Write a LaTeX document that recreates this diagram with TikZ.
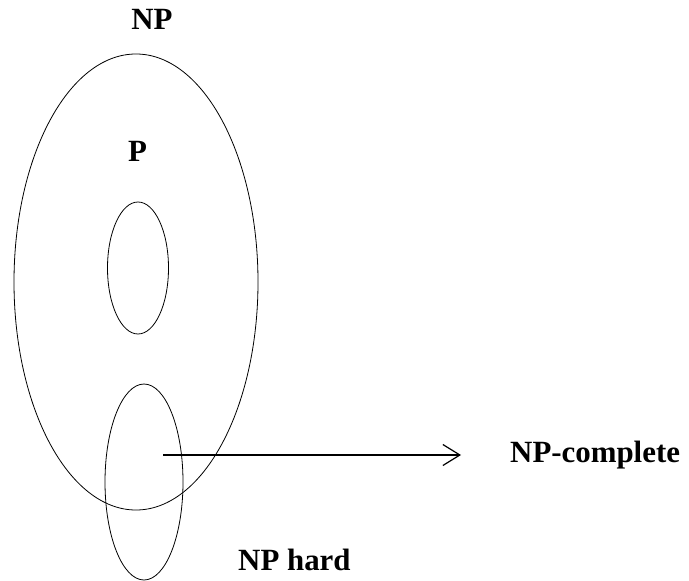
\documentclass[tikz,border=0pt]{standalone}
\usepackage{fontspec}
\setmainfont{Liberation Serif}
\usetikzlibrary{arrows.meta,shapes.geometric}

\begin{document}
\begin{tikzpicture}[x=1bp,y=-1bp]

		\tikzset{line/.style={draw,line width=0.8bp}}
		\tikzset{arrow/.style={draw,line width=1.4bp,-{Straight Barb[length=17bp,width=21bp,line width=1.2bp]}}}
		\tikzset{set/.style={line,shape=ellipse,inner sep=0pt}}
		\tikzset{label/.style={inner sep=0pt,font=\bfseries\fontsize{31}{36}\selectfont}}

		\useasboundingbox (0,0) rectangle (689,581);

		% sets
		\node[set,minimum width=244bp,minimum height=456bp] (np) at (136,282) {};
		\node[set,minimum width=61bp,minimum height=132bp] (p) at (138,268) {};
		\node[set,minimum width=78bp,minimum height=196bp] (nph) at (144,482) {};

		% labels
		\node[label,anchor=base] (np-lab) at (152,30) {NP};
		\node[label,anchor=base] (p-lab) at (137.5,162) {P};
		\node[label,anchor=base west] (nph-lab) at (238,570) {NP hard};
		\node[label,anchor=base west] (npc-lab) at (510,462) {NP-complete};

		\coordinate (c-start) at (163,455);
		\coordinate (c-end) at (461,455);
		\path[arrow] (c-start) -- (c-end);

	\end{tikzpicture}
\end{document}
